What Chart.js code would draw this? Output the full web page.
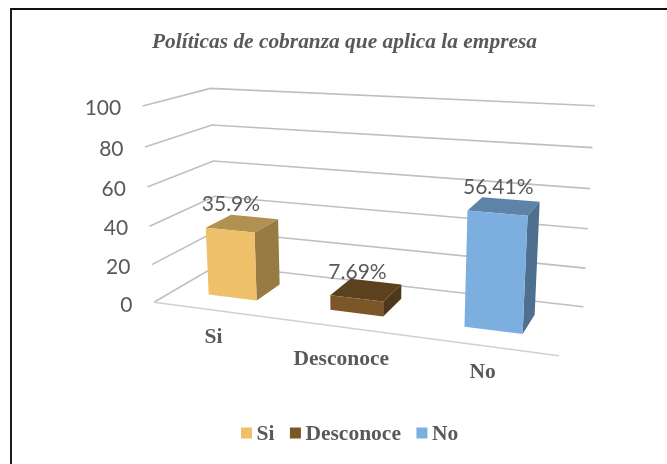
<!DOCTYPE html>
<html>
<head>
<meta charset="utf-8">
<title>Políticas de cobranza</title>
<script src="https://cdn.jsdelivr.net/npm/chart.js@4"></script>
<style>
  html, body { margin: 0; background: #fff; overflow: hidden; }
  #wrap { position: relative; width: 667px; height: 464px; }
  #frame { position: absolute; left: 10px; top: 8px; right: 0; bottom: 0; box-sizing: border-box;
           border-left: 2px solid #1c1c1c; border-top: 2px solid #111; }
  canvas { position: absolute; left: 0; top: 0; }
</style>
</head>
<body>
<div id="wrap">
  <div id="frame"></div>
  <canvas id="cobranzaChart" width="667" height="464"></canvas>
</div>
<script>
const titleText = 'Políticas de cobranza que aplica la empresa';
const categories = ['Si', 'Desconoce', 'No'];
const values = [35.9, 7.69, 56.41];
const valueTicks = [0, 20, 40, 60, 80, 100];
const colors = ['#EDC069', '#7A5628', '#7CAEE0'];

const textGrey = '#595959';
const serif = '"Liberation Serif", serif';

// perspective box: front-left-bottom corner, far end of each edge, and the
// foreshortening factor along each edge (u = across, v = depth, w = up)
const box = {
  o: [154, 302.3],
  u: [559, 355.7],
  v: [217.5, 265],
  w: [142.7, 106],
  pu: -0.1397,
  pv: 0.1164,
  pw: -0.05
};
const barDepth = [0.30, 0.71];
const categoryDrop = [27, 32, 27];

function project(u, v, w) {
  const d = 1 + box.pu * u + box.pv * v + box.pw * w;
  const axis = i => box.o[i]
    + u * ((1 + box.pu) * box.u[i] - box.o[i])
    + v * ((1 + box.pv) * box.v[i] - box.o[i])
    + w * ((1 + box.pw) * box.w[i] - box.o[i]);
  return [axis(0) / d, axis(1) / d];
}

function poly(ctx, pts, fill) {
  ctx.beginPath();
  pts.forEach((p, i) => i ? ctx.lineTo(p[0], p[1]) : ctx.moveTo(p[0], p[1]));
  ctx.closePath();
  ctx.fillStyle = fill;
  ctx.fill();
}

function line(ctx, pts) {
  ctx.beginPath();
  pts.forEach((p, i) => i ? ctx.lineTo(p[0], p[1]) : ctx.moveTo(p[0], p[1]));
  ctx.stroke();
}

function shade(hex, k) {
  const n = parseInt(hex.slice(1), 16);
  const c = [n >> 16, (n >> 8) & 255, n & 255].map(x => Math.round(x * k));
  return 'rgb(' + c.join(',') + ')';
}

function text(ctx, str, x, y, font, align) {
  ctx.font = font;
  ctx.fillStyle = textGrey;
  ctx.textAlign = align;
  ctx.textBaseline = 'middle';
  ctx.fillText(str, x, y);
}

// replaces the flat bars with walls, floor and extruded columns
const perspectiveBars = {
  id: 'perspectiveBars',
  beforeDatasetsDraw(chart) {
    const { ctx, chartArea: area, scales } = chart;
    const yScale = scales.y;
    const toW = value => (area.bottom - yScale.getPixelForValue(value)) / area.height;
    const toU = px => (px - area.left) / area.width;
    const boldSerif = 'bold 21.5px ' + serif;

    ctx.save();

    // grid lines on the side wall and the back wall
    ctx.strokeStyle = '#bfbfbf';
    ctx.lineWidth = 1.6;
    yScale.ticks.forEach(tick => {
      const w = toW(tick.value);
      line(ctx, [project(0, 0, w), project(0, 1, w), project(1, 1, w)]);
      const p = project(0, 0, w);
      text(ctx, String(tick.value), p[0] - 21.5, p[1] + 2.5, '21px Lato', 'right');
    });
    ctx.strokeStyle = '#d0d0d0';
    line(ctx, [project(0, 0, 0), project(1, 0, 0)]);

    // columns
    const [v0, v1] = barDepth;
    chart.getDatasetMeta(0).data.forEach((bar, i) => {
      const u0 = toU(bar.x - bar.width / 2);
      const u1 = toU(bar.x + bar.width / 2);
      const w = toW(values[i]);
      const base = colors[i];
      poly(ctx, [project(u0, v0, w), project(u1, v0, w), project(u1, v1, w), project(u0, v1, w)], shade(base, 0.75));
      poly(ctx, [project(u1, v0, 0), project(u1, v1, 0), project(u1, v1, w), project(u1, v0, w)], shade(base, 0.64));
      poly(ctx, [project(u0, v0, 0), project(u1, v0, 0), project(u1, v0, w), project(u0, v0, w)], base);
    });

    // value labels sit above the front of each column
    chart.getDatasetMeta(0).data.forEach((bar, i) => {
      const p = project(toU(bar.x), v0, toW(values[i]));
      text(ctx, values[i] + '%', p[0] + 1, p[1] - 26, '21px Lato', 'center');
    });

    // category labels under the front edge of the floor
    const xScale = scales.x;
    categories.forEach((name, i) => {
      const p = project(toU(xScale.getPixelForValue(i)), 0, 0);
      text(ctx, name, p[0], p[1] + categoryDrop[i], boldSerif, 'center');
    });

    // legend row
    const legendY = 433;
    ctx.font = boldSerif;
    const widths = categories.map(c => ctx.measureText(c).width);
    const total = widths.reduce((a, b) => a + b, 0) + categories.length * 15.5 + (categories.length - 1) * 15.5;
    let x = 349.6 - total / 2;
    categories.forEach((name, i) => {
      ctx.fillStyle = colors[i];
      ctx.fillRect(x, legendY - 5.5, 11, 11);
      text(ctx, name, x + 15.5, legendY + 1.5, boldSerif, 'left');
      x += 15.5 + widths[i] + 15.5;
    });

    ctx.restore();
    return false;
  }
};

new Chart(document.getElementById('cobranzaChart').getContext('2d'), {
  type: 'bar',
  data: {
    labels: categories,
    datasets: [{
      data: values,
      backgroundColor: colors,
      barPercentage: 0.405,
      categoryPercentage: 1
    }]
  },
  options: {
    responsive: false,
    animation: false,
    layout: { padding: { left: 42, right: 20, top: 0, bottom: 60 } },
    plugins: {
      legend: { display: false },
      tooltip: { enabled: false },
      title: {
        display: true,
        text: titleText,
        color: textGrey,
        font: { family: serif, size: 21.4, weight: 'bold', style: 'italic' },
        padding: { top: 30, bottom: 20 }
      }
    },
    scales: {
      x: { display: false },
      y: {
        display: false,
        min: 0,
        max: 100,
        afterBuildTicks: scale => { scale.ticks = valueTicks.map(value => ({ value })); }
      }
    }
  },
  plugins: [perspectiveBars]
});
</script>
</body>
</html>
